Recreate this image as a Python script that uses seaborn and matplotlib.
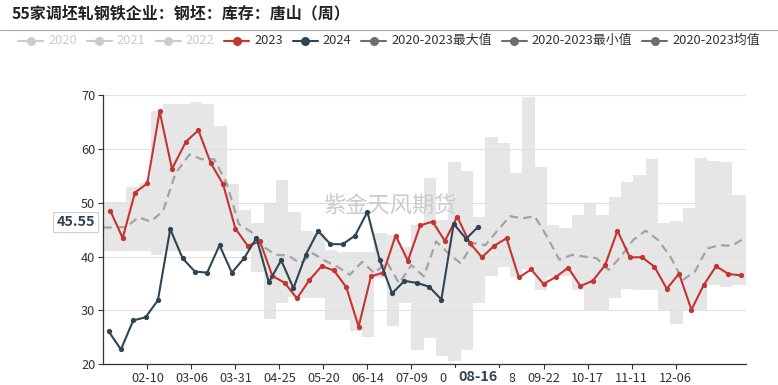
import numpy as np
import pandas as pd
import matplotlib
matplotlib.use("Agg")
import matplotlib.pyplot as plt
import matplotlib.transforms as mtransforms
from matplotlib.lines import Line2D
from matplotlib.patches import Rectangle
import seaborn as sns

# ---------------- data ----------------
title = "55家调坯轧钢铁企业：钢坯：库存：唐山（周）"
axis_start = "2024-01-16"       # first category of the seasonal axis (daily, MM-DD)
n_days = 366
tick_every = 25
tick_last = 325

red_start = "2023-01-20"        # 2023 weekly
red_values = [48.5, 43.45, 51.9, 53.6, 67.0, 56.3, 61.4, 63.5, 57.4, 53.5, 45.2, 42.0, 42.8,
              36.4, 35.1, 32.2, 35.6, 38.2, 37.4, 34.3, 26.95, 36.3, 37.0, 43.9, 39.2, 45.8,
              46.5, 42.9, 47.4, 42.6, 39.85, 42.0, 43.4, 36.1, 37.6, 34.9, 36.2, 37.9, 34.5,
              35.5, 38.4, 44.8, 39.85, 39.85, 38.1, 34.0, 36.8, 30.1, 34.7, 38.2, 36.75, 36.5]

blue_start = "2024-01-19"       # 2024 weekly
blue_values = [26.1, 22.7, 28.1, 28.7, 31.85, 45.1, 39.7, 37.2, 37.0, 42.1, 37.0, 39.7, 43.45,
               35.2, 39.3, 34.1, 40.35, 44.75, 42.3, 42.3, 43.9, 48.3, 39.3, 33.15, 35.45, 35.1,
               34.4, 32.0, 46.1, 43.3, 45.55]

stat_start = "2023-01-22"       # 2020-2023 statistics, weekly steps
max_values = [50.1, 50.1, 52.9, 53.6, 67.0, 68.4, 68.4, 68.7, 68.4, 64.3, 53.5, 48.7, 46.2,
              49.7, 54.2, 48.3, 44.8, 44.3, 41.3, 40.9, 40.9, 40.9, 44.4, 44.0, 41.8, 45.8,
              54.7, 46.8, 57.5, 56.0, 47.4, 62.3, 61.2, 55.5, 69.6, 56.7, 45.9, 45.4, 47.7,
              49.9, 47.7, 51.0, 53.9, 55.1, 58.2, 46.3, 46.7, 49.1, 58.3, 57.8, 57.6, 51.4]
min_values = [41.0, 41.0, 41.0, 41.0, 40.2, 41.0, 41.0, 41.0, 41.0, 41.0, 41.0, 41.0, 37.2,
              28.4, 31.3, 32.5, 32.2, 32.2, 28.2, 28.2, 26.2, 25.0, 36.0, 27.0, 31.3, 22.6,
              24.8, 21.4, 20.6, 22.6, 31.3, 36.3, 38.0, 36.1, 37.6, 33.8, 36.2, 36.3, 33.8,
              30.05, 30.0, 32.2, 34.0, 33.8, 33.8, 30.0, 27.5, 30.1, 30.05, 34.7, 34.4, 34.7]
mean_values = [45.4, 45.5, 47.3, 46.5, 48.5, 55.5, 59.0, 58.1, 58.1, 53.7, 46.0, 44.6, 41.8,
               40.3, 40.2, 38.7, 40.6, 39.2, 38.1, 36.6, 39.0, 36.9, 39.0, 35.0, 38.4, 36.3,
               42.8, 40.6, 38.7, 42.5, 42.1, 44.9, 47.5, 47.1, 47.5, 43.7, 39.4, 40.3, 40.0,
               39.7, 37.5, 40.0, 43.1, 44.8, 43.1, 40.0, 35.6, 37.2, 41.5, 42.1, 42.0, 43.4]

legend_labels = ["2020", "2021", "2022", "2023", "2024",
                 "2020-2023最大值", "2020-2023最小值", "2020-2023均值"]
legend_active = [False, False, False, True, True, True, True, True]
watermark = "紫金天风期货"

# ---------------- styles ----------------
RED = "#c23531"
BLUE = "#2f4554"
BAND = "#e6e6e6"
MEAN = "#a3a3a3"
STAT_ICON = "#6e6e6e"
INACTIVE = "#cccccc"
TXT = "#333333"

sns.set_theme(style="white")
plt.rcParams["font.family"] = ["Noto Sans CJK SC", "DejaVu Sans"]
plt.rcParams["axes.unicode_minus"] = False

# ---------------- category mapping ----------------
cats = pd.date_range(axis_start, periods=n_days).strftime("%m-%d").tolist()
pos = {c: i for i, c in enumerate(cats)}

def weekly_index(start, n):
    return [pos[d] for d in pd.date_range(start, periods=n, freq="7D").strftime("%m-%d")]

red_x = weekly_index(red_start, len(red_values))
blue_x = weekly_index(blue_start, len(blue_values))
stat_x = weekly_index(stat_start, len(max_values))

red_df = pd.DataFrame({"x": red_x, "y": red_values})
blue_df = pd.DataFrame({"x": blue_x, "y": blue_values})
band_x = [0] + stat_x + [n_days - 1]
band_hi = [max_values[0]] + max_values + [max_values[-1]]
band_lo = [min_values[0]] + min_values + [min_values[-1]]
mean_df = pd.DataFrame({"x": [0] + stat_x + [n_days - 1],
                        "y": [mean_values[0]] + mean_values + [mean_values[-1]]})

# ---------------- figure ----------------
W, H = 778, 385
fig = plt.figure(figsize=(W / 100, H / 100), dpi=100)
fig.patch.set_facecolor("white")
L, R, T, B = 103.3, 746, 95.3, 364
ax = fig.add_axes([L / W, 1 - B / H, (R - L) / W, (B - T) / H])
ax.set_facecolor("white")

ax.fill_between(band_x, band_lo, band_hi, step="pre", color=BAND, lw=0, zorder=0.3)
sns.lineplot(data=mean_df, x="x", y="y", ax=ax, color=MEAN, lw=1.6,
             linestyle=(0, (3.8, 2.4)), sort=False, zorder=2)
sns.lineplot(data=red_df, x="x", y="y", ax=ax, color=RED, lw=1.5, marker="o",
             markersize=3.8, markeredgewidth=0, sort=False, zorder=3)
sns.lineplot(data=blue_df, x="x", y="y", ax=ax, color=BLUE, lw=1.5, marker="o",
             markersize=3.8, markeredgewidth=0, sort=False, zorder=4)

ax.set_xlim(0, n_days - 1)
ax.set_ylim(20, 70)
ax.set_xlabel("")
ax.set_ylabel("")
ticks = list(range(tick_every, tick_last + 1, tick_every))
ax.set_xticks(ticks)
ax.set_xticklabels([cats[i] for i in ticks])
ax.set_yticks(range(20, 71, 10))
ax.tick_params(axis="both", labelsize=9.2, colors=TXT, length=3.6, width=0.8, pad=2.2,
               direction="out")
ax.tick_params(axis="x", bottom=True)
ax.tick_params(axis="y", left=True)
ax.set_axisbelow(True)
ax.yaxis.grid(True, color="#e0e0e0", lw=0.8)
ax.xaxis.grid(False)
for s in ["top", "right"]:
    ax.spines[s].set_visible(False)
for s in ["left", "bottom"]:
    ax.spines[s].set_color(TXT)
    ax.spines[s].set_linewidth(0.9)

# watermark
ax.text(390 / W, 1 - 206 / H, watermark, transform=fig.transFigure, ha="center",
        va="center", fontsize=16, color="#cbcbcb", zorder=1.5)

# axis pointer labels
last_day = blue_x[-1]
last_val = blue_values[-1]
ax.annotate(f"{last_val:.2f}", xy=(0, last_val), xycoords=("axes fraction", "data"),
            xytext=(-6, 3.2), textcoords="offset points", ha="right", va="center",
            fontsize=10.4, fontweight="bold", color=BLUE, annotation_clip=False,
            bbox=dict(boxstyle="square,pad=0.22", fc="white", ec="#d0d0d0", lw=0.8),
            zorder=6)
trans = mtransforms.blended_transform_factory(ax.transData, ax.transAxes)
ax.add_patch(Rectangle((last_day - 18, -(388 - B) / (B - T)), 36, (388 - 367.5) / (B - T),
                       transform=trans, fc="white", ec="none", clip_on=False, zorder=5))
ax.text(last_day, -(377 - B) / (B - T), cats[last_day], transform=trans, ha="center",
        va="center", fontsize=10.4, fontweight="bold", color=BLUE, zorder=6, clip_on=False)

# title and rule
fig.text(12 / W, 1 - 13 / H, title, ha="left", va="center", fontsize=11.5,
         fontweight="bold", color="#222222")
fig.add_artist(Line2D([0, 1], [1 - 29.5 / H] * 2, color="#aaaaaa", lw=0.8))

# legend (manual, ECharts-like)
icon_cols = [INACTIVE] * 3 + [RED, BLUE, STAT_ICON, STAT_ICON, STAT_ICON]
renderer = fig.canvas.get_renderer()
x = 18.0
ly = 1 - 40.5 / H
for lab, act, col in zip(legend_labels, legend_active, icon_cols):
    fig.add_artist(Line2D([x / W, (x + 25) / W], [ly, ly], color=col, lw=1.5))
    fig.add_artist(Line2D([(x + 12.5) / W], [ly], color=col, marker="o", markersize=6.5,
                          markeredgewidth=0))
    t = fig.text((x + 30) / W, ly, lab, ha="left", va="center", fontsize=9.3,
                 color=TXT if act else INACTIVE)
    bb = t.get_window_extent(renderer=renderer)
    x = bb.x1 + 10

fig.savefig("out.png", dpi=100, facecolor="white")
